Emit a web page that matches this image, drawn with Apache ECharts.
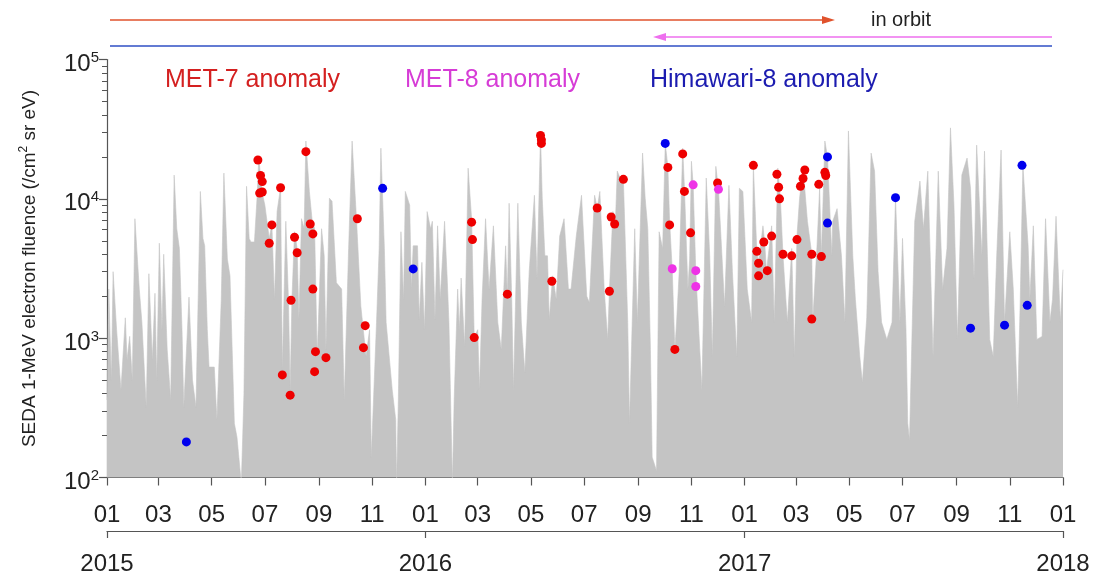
<!DOCTYPE html>
<html>
<head>
<meta charset="UTF-8">
<title>SEDA 1-MeV electron fluence</title>
<script src="https://cdn.jsdelivr.net/npm/echarts@6/dist/echarts.min.js"></script>
<style>
  html, body { margin: 0; padding: 0; background: #fff; }
  #main { width: 1100px; height: 576px; }
</style>
</head>
<body>
<div id="main"></div>
<script>
// days counted from 2015-01-01
var grayDay = [0,2,5,7,11,16,21,23,26,29,32,37,40,45,48,52,55,57,60,63,65,69,73,77,80,83,86,88,94,98,102,107,110,112,115,117,123,126,131,134,138,141,146,149,154,157,160,163,165,169,172,174,178,181,186,189,192,195,199,201,205,208,210,212,215,218,220,223,226,228,232,235,238,241,246,249,251,255,258,263,269,272,277,281,286,291,297,301,303,309,312,314,318,320,327,331,332,334,337,340,342,347,349,351,356,358,361,364,367,371,373,376,379,382,387,390,392,396,398,402,404,406,410,414,418,421,425,427,430,434,438,443,448,452,457,459,461,464,466,471,475,479,484,490,493,497,499,502,505,507,511,515,519,524,529,532,538,544,550,553,559,562,565,570,574,576,580,583,585,589,592,597,599,605,608,614,617,620,623,625,630,633,637,640,643,645,648,651,653,656,660,662,666,668,670,672,675,677,682,687,691,694,698,701,705,708,713,717,722,725,729,734,739,741,745,747,748,752,754,756,757,762,765,769,772,775,780,785,788,791,794,798,800,803,808,809,814,817,819,823,826,831,832,837,842,846,850,855,858,863,866,871,876,880,884,888,894,900,901,904,909,912,916,918,920,926,932,936,941,947,953,958,963,967,971,975,980,986,990,994,997,1003,1006,1012,1016,1020,1025,1029,1035,1039,1044,1047,1050,1056,1058,1062,1066,1072,1076,1081,1084,1088,1093,1096];
var grayVal = [360,2250,500,3000,1150,425,1400,700,1030,500,7200,2250,1300,320,2900,700,2100,500,4800,1150,4000,830,360,14800,6100,4400,1150,320,1970,500,320,11300,5200,4600,1150,620,620,260,1900,15300,3700,2800,245,195,90,400,12300,5200,4900,4900,10100,19600,11000,9000,5200,6600,1900,8100,12100,600,6900,1900,425,1900,5800,4400,1370,7200,6100,26000,11300,7200,6100,740,6100,3900,830,10100,9600,2500,2250,360,4400,26000,7200,1700,740,1150,140,1300,4400,23100,4400,1300,425,260,90,360,5800,1900,11300,9000,2250,4600,4600,1370,3500,1150,8100,6100,6900,1370,6400,1900,6900,2700,1300,90,360,2250,1150,2700,870,16600,7200,1010,1150,425,1900,7200,2250,6400,1300,830,4600,2000,9300,1900,425,9300,1300,570,3000,10600,2700,28700,10100,3900,3900,1370,2800,1900,5400,7200,2250,2250,5400,10600,2000,1800,10600,8600,11300,2250,980,2200,8100,7200,15800,13700,13700,1300,245,6100,1300,21300,10100,6100,830,140,112,5800,4400,25000,17000,6900,3100,830,1300,3000,23100,11900,2250,3700,18600,12600,3050,1700,425,14100,3900,740,17100,11700,3900,1700,12500,3000,740,11900,11300,2250,1300,17400,4200,3450,3900,6400,4900,3000,3050,6400,1300,16600,10100,3900,1300,4400,740,5400,10100,16600,16300,6900,4000,1300,4600,11900,3850,26000,20000,3900,6900,8500,3900,1300,30700,3900,1900,740,480,1400,21300,15800,3000,1300,980,1300,2250,10200,1300,5200,1150,245,185,6900,13400,6100,15800,740,15800,2250,4400,32300,9000,980,14800,19600,11900,2700,24300,3900,22000,980,740,3900,22400,1300,5800,2250,320,1900,17400,4600,1900,6400,980,1030,7200,1300,1900,7500,1300,3100];

var met7Day = [173,176,178,175,178,189,186,199,215,218,211,201,210,228,233,236,236,239,238,251,287,296,294,418,419,421,459,497,498,498,510,562,578,582,576,592,643,645,651,660,662,669,700,741,745,747,747,753,757,762,768,770,771,775,785,791,795,798,800,808,808,816,819,823,824];
var met7Val = [19000,14700,13300,11000,11200,6500,4800,12000,5300,4100,1870,545,390,21800,6600,5600,2250,800,575,725,7200,1230,855,6800,5100,1010,2070,28500,26500,25000,2560,8600,7400,6600,2170,13800,16800,6500,830,21000,11300,5700,13000,17400,4200,3450,2800,4900,3050,5400,15000,12100,10000,4000,3900,5100,12300,14000,16100,4000,1370,12700,3850,15500,14700];

var met8Day = [648,672,675,675,701];
var met8Val = [3150,12600,3050,2350,11700];

var himaDay = [91,316,351,640,826,826,904,990,1029,1049,1055];
var himaVal = [180,11900,3140,25000,20000,6700,10200,1180,1240,17400,1720];

var monthTicks = ['2015-01','2015-03','2015-05','2015-07','2015-09','2015-11',
                  '2016-01','2016-03','2016-05','2016-07','2016-09','2016-11',
                  '2017-01','2017-03','2017-05','2017-07','2017-09','2017-11','2018-01'];
var yearTicks = ['2015','2016','2017','2018'];
var minorTicks = [200,300,400,500,600,700,800,900,2000,3000,4000,5000,6000,7000,8000,9000,
                  20000,30000,40000,50000,60000,70000,80000,90000];

// convert calendar ticks to day offsets
var DAY = 86400000;
var T0 = Date.UTC(2015, 0, 1);
var LAST = (Date.UTC(2018, 0, 1) - T0) / DAY;
var monthDays = monthTicks.map(function (s) {
    return (Date.UTC(+s.slice(0, 4), +s.slice(5, 7) - 1, 1) - T0) / DAY;
});
var yearDays = yearTicks.map(function (s) { return (Date.UTC(+s, 0, 1) - T0) / DAY; });
function pairs(days, vals) {
    return days.map(function (d, i) { return [d, vals[i]]; });
}

var FONT = '"Liberation Sans", Arial, sans-serif';
var AXIS = '#555';

var myChart = echarts.init(document.getElementById('main'));
var option = {
    animation: false,
    textStyle: { fontFamily: FONT },
    grid: { left: 107, right: 37, top: 59.5, bottom: 96.5 },
    xAxis: [{
        type: 'value',
        min: 0, max: LAST,
        position: 'bottom',
        axisLine: { show: true, lineStyle: { color: AXIS, width: 1.2 } },
        axisTick: { show: true, customValues: monthDays, length: 8, lineStyle: { color: AXIS, width: 1.2 } },
        axisLabel: {
            customValues: monthDays,
            fontSize: 24, color: '#222', margin: 26, fontFamily: FONT,
            showMinLabel: true, showMaxLabel: true,
            formatter: function (v) {
                var i = monthDays.indexOf(v);
                return i >= 0 ? monthTicks[i].slice(5) : '';
            }
        },
        splitLine: { show: false }
    }, {
        type: 'value',
        min: 0, max: LAST,
        position: 'bottom',
        offset: 53.5,
        axisLine: { show: true, lineStyle: { color: AXIS, width: 1.2 } },
        axisTick: { show: true, customValues: yearDays, length: 7, lineStyle: { color: AXIS, width: 1.2 } },
        axisLabel: {
            customValues: yearDays,
            fontSize: 24, color: '#222', margin: 21, fontFamily: FONT,
            showMinLabel: true, showMaxLabel: true,
            formatter: function (v) {
                var i = yearDays.indexOf(v);
                return i >= 0 ? yearTicks[i] : '';
            }
        },
        splitLine: { show: false }
    }],
    yAxis: [{
        type: 'log',
        logBase: 10,
        min: 100, max: 100000,
        position: 'left',
        offset: 2,
        name: '{t|SEDA 1-MeV electron fluence (/cm}{s|2}{t| sr eV)}',
        nameLocation: 'middle',
        nameRotate: 90,
        nameGap: 63,
        nameTextStyle: {
            rich: {
                t: { fontSize: 19, color: '#222', fontFamily: FONT, lineHeight: 24 },
                s: { fontSize: 12, color: '#222', fontFamily: FONT, verticalAlign: 'top', lineHeight: 12 }
            }
        },
        axisLine: { show: true, lineStyle: { color: AXIS, width: 1.2 } },
        axisTick: { show: true, length: 8, lineStyle: { color: AXIS, width: 1.2 } },
        axisLabel: {
            margin: 6,
            padding: [10, 0, 0, 0],
            formatter: function (v) {
                return '{b|10}{s|' + Math.round(Math.log10(v)) + '}';
            },
            rich: {
                b: { fontSize: 24, color: '#222', fontFamily: FONT, lineHeight: 28 },
                s: { fontSize: 15, color: '#222', fontFamily: FONT, verticalAlign: 'top', lineHeight: 15 }
            }
        },
        splitLine: { show: false }
    }, {
        type: 'log',
        logBase: 10,
        min: 100, max: 100000,
        position: 'left',
        offset: 2,
        axisLine: { show: false },
        axisTick: { show: true, customValues: minorTicks, length: 5, lineStyle: { color: AXIS, width: 1 } },
        axisLabel: { show: false },
        splitLine: { show: false }
    }],
    series: [{
        name: 'SEDA 1-MeV fluence',
        type: 'line',
        data: pairs(grayDay, grayVal),
        showSymbol: false,
        symbol: 'none',
        clip: true,
        lineStyle: { color: '#c4c4c4', width: 0.6 },
        areaStyle: { color: '#c4c4c4', opacity: 1, origin: 'start' },
        z: 1
    }, {
        name: 'MET-7 anomaly',
        type: 'scatter',
        data: pairs(met7Day, met7Val),
        symbolSize: 9,
        itemStyle: { color: '#ee0000', opacity: 1 },
        z: 3
    }, {
        name: 'MET-8 anomaly',
        type: 'scatter',
        data: pairs(met8Day, met8Val),
        symbolSize: 9,
        itemStyle: { color: '#ee33e6', opacity: 1 },
        z: 3
    }, {
        name: 'Himawari-8 anomaly',
        type: 'scatter',
        data: pairs(himaDay, himaVal),
        symbolSize: 9,
        itemStyle: { color: '#0000ee', opacity: 1 },
        z: 3
    }],
    graphic: [
        // in-orbit periods
        { type: 'line', shape: { x1: 110, y1: 20, x2: 826, y2: 20 }, style: { stroke: '#e0522c', lineWidth: 1.5 } },
        { type: 'polygon', shape: { points: [[835, 20], [822, 16], [822, 24]] }, style: { fill: '#e0522c' } },
        { type: 'text', left: 871, top: 10, style: { text: 'in orbit', fontSize: 20, fill: '#222', fontFamily: FONT } },
        { type: 'line', shape: { x1: 662, y1: 37, x2: 1052, y2: 37 }, style: { stroke: '#ee6fee', lineWidth: 1.5 } },
        { type: 'polygon', shape: { points: [[653, 37], [666, 33], [666, 41]] }, style: { fill: '#ee6fee' } },
        { type: 'line', shape: { x1: 110, y1: 46, x2: 1052, y2: 46 }, style: { stroke: '#2f4fc4', lineWidth: 1.5 } },
        // satellite labels
        { type: 'text', left: 165, top: 68, style: { text: 'MET-7 anomaly', fontSize: 25, fill: '#d42020', fontFamily: FONT } },
        { type: 'text', left: 405, top: 68, style: { text: 'MET-8 anomaly', fontSize: 25, fill: '#d63cd6', fontFamily: FONT } },
        { type: 'text', left: 650, top: 68, style: { text: 'Himawari-8 anomaly', fontSize: 25, fill: '#1c1cb0', fontFamily: FONT } }
    ]
};
myChart.setOption(option);
</script>
</body>
</html>
